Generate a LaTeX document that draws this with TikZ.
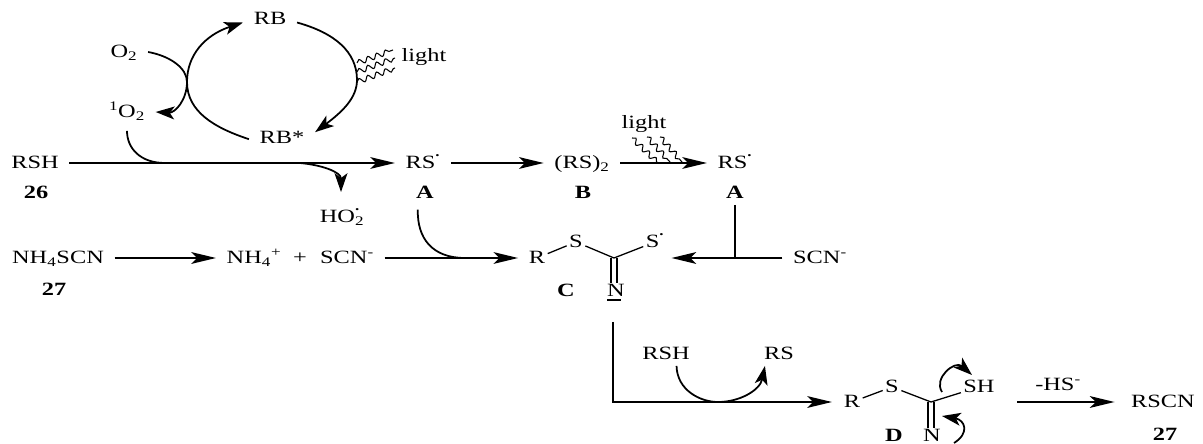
\documentclass[tikz,border=0pt]{standalone}
\usepackage{fontspec}
\setmainfont[FakeStretch=1.3]{Liberation Serif}
\usetikzlibrary{arrows.meta}
\usetikzlibrary{decorations.pathmorphing}
\newcommand{\rad}{\textsuperscript{\raisebox{.9ex}{\textbf{.}}}}
\tikzset{
  chem/.style={font=\fontsize{16}{18}\selectfont,inner xsep=9pt,inner ysep=5pt,text height=10pt,text depth=0pt},
  atom/.style={chem,inner xsep=2pt,inner ysep=2pt},
  lbl/.style={chem,font=\fontsize{16}{18}\selectfont\bfseries},
  rxn/.style={line width=1.9pt,-{Stealth[length=21pt,width=10pt,inset=5pt]}},
  plainrxn/.style={line width=1.9pt},
  curly/.style={line width=1.5pt,-{Stealth[length=16pt,width=11pt,inset=4pt]}},
  plaincurly/.style={line width=1.5pt},
  bond/.style={line width=1.1pt},
  wave/.style={line width=.9pt,decorate,decoration={snake,segment length=8pt,amplitude=2.2pt}}
}
\begin{document}
\begin{tikzpicture}[x=3cm,y=-3cm]
        \useasboundingbox (0,0) rectangle (12.03,4.44);

        \node [chem] (rb) at (2.70,0.19) {RB};
        \node [chem] (rbs) at (2.82,1.38) {RB*};
        \node [chem] (oxy) at (1.24,0.52) {O\textsubscript{2}};
        \node [chem] (sing) at (1.27,1.12) {\textsuperscript{1}O\textsubscript{2}};
        \node [chem] (lighta) at (4.24,0.56) {light};
        \node [chem] (rsh) at (0.35,1.63) {RSH};
        \node [lbl] (n26) at (0.36,1.93) {26};
        \node [chem] (rsa) at (4.23,1.63) {RS\rad};
        \node [lbl] (la) at (4.25,1.93) {A};
        \node [chem] (hoo) at (3.42,2.17) {HO\rlap{\rad}\textsubscript{2}};
        \node [chem] (rstwo) at (5.82,1.63) {(RS)\textsubscript{2}};
        \node [lbl] (lb) at (5.83,1.93) {B};
        \node [chem] (lightb) at (6.44,1.23) {light};
        \node [chem] (rsc) at (7.35,1.63) {RS\rad};
        \node [lbl] (lac) at (7.35,1.93) {A};
        \node [chem] (nhscn) at (0.58,2.58) {NH\textsubscript{4}SCN};
        \node [lbl] (n27a) at (0.54,2.90) {27};
        \node [chem] (nhfour) at (2.54,2.58) {NH\textsubscript{4}\textsuperscript{+}};
        \node [chem,inner xsep=0pt] (plus) at (3.00,2.58) {+};
        \node [chem] (scn) at (3.47,2.58) {SCN\textsuperscript{-}};
        \node [chem] (scnr) at (8.20,2.58) {SCN\textsuperscript{-}};

        \node [atom] (cr) at (5.37,2.58) {R};
        \node [atom] (cs) at (5.76,2.42) {S};
        \node [atom] (cst) at (6.55,2.42) {S\rad};
        \node [atom] (cn) at (6.16,2.91) {N};
        \node [lbl] (lc) at (5.66,2.91) {C};
        \coordinate (cc) at (6.14,2.58);
        \draw [bond] (cr) -- (cs);
        \draw [bond] (cs) -- (cc);
        \draw [bond] (cc) -- (cst);
        \draw [bond] ([xshift=-2.5pt]cc) -- ([xshift=-2.5pt]cc |- cn.north);
        \draw [bond] ([xshift=2.5pt]cc) -- ([xshift=2.5pt]cc |- cn.north);
        \draw [line width=1.4pt] (6.07,3.00) -- (6.21,3.00);

        \node [chem] (rshb) at (6.66,3.54) {RSH};
        \node [chem] (rsd) at (7.79,3.54) {RS};
        \node [atom] (dr) at (8.52,4.02) {R};
        \node [atom] (ds) at (8.92,3.87) {S};
        \node [atom] (dsh) at (9.79,3.87) {SH};
        \node [atom] (dn) at (9.32,4.36) {N};
        \node [lbl,inner ysep=0pt] (ld) at (8.94,4.36) {D};
        \node [chem] (hs) at (10.58,3.85) {-HS\textsuperscript{-}};
        \node [chem] (rscn) at (11.63,4.02) {RSCN};
        \node [lbl] (n27b) at (11.65,4.35) {27};
        \coordinate (dc) at (9.31,4.02);
        \draw [bond] (dr) -- (ds);
        \draw [bond] (ds) -- (dc);
        \draw [bond] (dc) -- (dsh);
        \draw [bond] ([xshift=-2.5pt]dc) -- ([xshift=-2.5pt]dc |- dn.north);
        \draw [bond] ([xshift=2.5pt]dc) -- ([xshift=2.5pt]dc |- dn.north);

        \coordinate (cycl) at (1.87,0.82);
        \coordinate (cycr) at (3.57,0.80);
        \draw [curly] ([yshift=-1pt]rbs.west) .. controls (2.15,1.28) and (1.87,1.12) .. (cycl) .. controls (1.87,0.55) and (2.05,0.35) .. ([yshift=-3pt]rb.west);
        \draw [curly] ([yshift=-3pt]rb.east) .. controls (3.35,0.33) and (3.57,0.52) .. (cycr) .. controls (3.57,0.98) and (3.42,1.12) .. ([yshift=5pt]rbs.east);
        \draw [plaincurly] (oxy.east) .. controls (1.70,0.56) and (1.87,0.68) .. (cycl);
        \draw [curly] (cycl) .. controls (1.87,1.00) and (1.75,1.13) .. (sing.east);

        \coordinate (wa) at (3.57,0.63);
        \coordinate (wb) at (3.57,0.72);
        \coordinate (wc) at (3.57,0.82);
        \coordinate (wd) at (3.93,0.50);
        \coordinate (we) at (3.95,0.58);
        \coordinate (wf) at (3.95,0.68);
        \draw [wave] (wa) -- (wd);
        \draw [wave] (wb) -- (we);
        \draw [wave] (wc) -- (wf);

        \coordinate (wg) at (6.32,1.38);
        \coordinate (wh) at (6.47,1.37);
        \coordinate (wi) at (6.60,1.37);
        \coordinate (wj) at (6.57,1.62);
        \coordinate (wk) at (6.70,1.62);
        \coordinate (wl) at (6.82,1.62);
        \draw [wave] (wg) -- (wj);
        \draw [wave] (wh) -- (wk);
        \draw [wave] (wi) -- (wl);

        \coordinate (hsa) at (10.17,4.02);
        \draw [rxn] (rsh.east) -- (rsa.west);
        \draw [rxn] (rsa.east) -- (rstwo.west);
        \draw [rxn] (rstwo.east) -- (rsc.west);
        \draw [rxn] (nhscn.east) -- (nhfour.west);
        \draw [rxn,shorten >=7pt] (scn.east) -- (cr.west);
        \draw [rxn,shorten >=4pt] (scnr.west) -- (scnr.west -| cst.east);
        \draw [plainrxn] (lac.south) -- (lac.south |- scnr.west);
        \draw [rxn,shorten >=5pt] (hsa) -- (rscn.west);

        \coordinate (jfa) at (1.65,1.63);
        \coordinate (jfb) at (3.00,1.63);
        \coordinate (jfc) at (4.65,2.58);
        \coordinate (hotip) at (3.41,1.92);
        \draw [plaincurly,shorten <=6pt] (sing.south) .. controls (1.27,1.48) and (1.40,1.63) .. (jfa);
        \draw [curly] (jfb) .. controls (3.22,1.65) and (3.41,1.72) .. (hotip);
        \draw [plaincurly,shorten <=4pt] ([xshift=-6pt]la.south) .. controls (4.17,2.38) and (4.32,2.58) .. (jfc);

        \coordinate (ctop) at (6.13,3.22);
        \coordinate (jfd) at (7.18,4.02);
        \draw [rxn,shorten >=8pt] (ctop) |- (dr.west);
        \draw [plaincurly] ([xshift=9pt]rshb.south) .. controls (6.77,3.90) and (7.00,4.02) .. (jfd);
        \draw [curly] (jfd) .. controls (7.40,4.02) and (7.60,3.90) .. ([xshift=-12pt]rsd.south);

        \coordinate (aa) at (9.42,3.92);
        \coordinate (ab) at (9.72,3.75);
        \coordinate (ac) at (9.54,4.43);
        \coordinate (ad) at (9.42,4.16);
        \draw [curly] (aa) .. controls (9.33,3.78) and (9.55,3.60) .. (ab);
        \draw [curly] (ac) .. controls (9.70,4.33) and (9.65,4.20) .. (ad);
\end{tikzpicture}
\end{document}
